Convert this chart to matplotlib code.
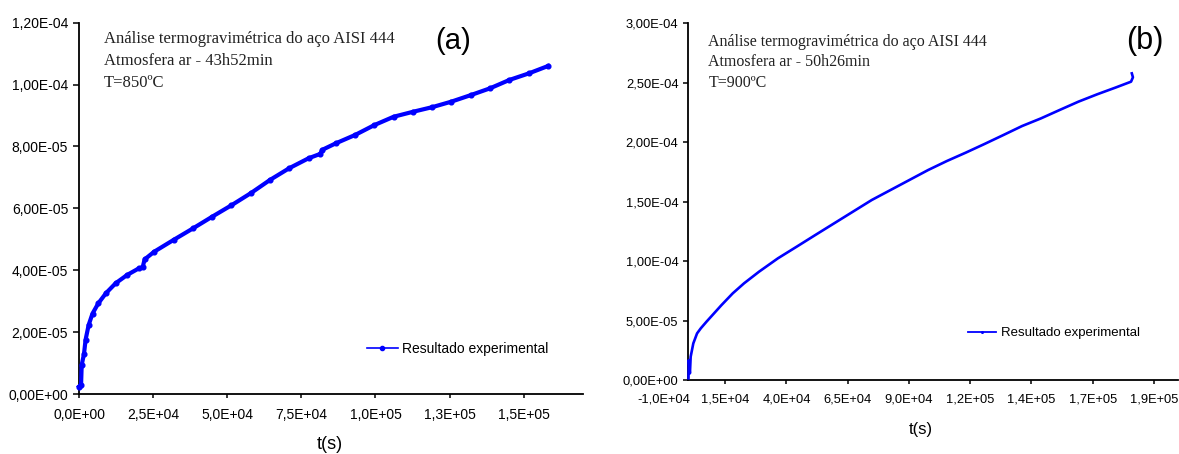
# -*- coding: utf-8 -*-

import numpy as np
import matplotlib
matplotlib.use("Agg")
import matplotlib.pyplot as plt
from matplotlib.lines import Line2D

# =========================
# 数据 (a) T=850ºC
t_850 = [0, 700, 911, 1693, 2213, 3255, 4557, 6510, 9114, 12369, 16275, 20181,
         21483, 22134, 25389, 31899, 38409, 44919, 51429, 57939, 64449, 70959,
         77469, 81375, 82026, 86583, 93093, 99603, 106113, 112623, 119133,
         125643, 132153, 138663, 145173, 151683, 158193]
m_850 = [2.4e-6, 3.0e-6, 9.4e-6, 1.30e-5, 1.75e-5, 2.23e-5, 2.60e-5, 2.93e-5,
         3.26e-5, 3.58e-5, 3.85e-5, 4.06e-5, 4.10e-5, 4.35e-5, 4.60e-5, 4.98e-5,
         5.35e-5, 5.73e-5, 6.10e-5, 6.49e-5, 6.92e-5, 7.30e-5, 7.62e-5, 7.76e-5,
         7.89e-5, 8.10e-5, 8.37e-5, 8.69e-5, 8.96e-5, 9.12e-5, 9.27e-5, 9.45e-5,
         9.66e-5, 9.88e-5, 1.015e-4, 1.036e-4, 1.060e-4]

# 数据 (b) T=900ºC
t_900 = [0, 123, 583, 890, 1964, 3498, 5032, 7332, 10400, 13468, 18070, 22672,
         28808, 36478, 44148, 51818, 59488, 67158, 74828, 82498, 90168, 97838,
         105508, 113178, 120848, 128518, 136188, 143858, 151528, 159198, 166868,
         174538, 180674, 181441, 180981]
m_900 = [1.4e-6, 1.68e-5, 5.6e-6, 1.96e-5, 3.08e-5, 3.92e-5, 4.35e-5, 4.90e-5,
         5.60e-5, 6.30e-5, 7.29e-5, 8.13e-5, 9.11e-5, 1.023e-4, 1.121e-4,
         1.220e-4, 1.318e-4, 1.416e-4, 1.514e-4, 1.598e-4, 1.682e-4, 1.766e-4,
         1.842e-4, 1.912e-4, 1.985e-4, 2.060e-4, 2.136e-4, 2.200e-4, 2.271e-4,
         2.341e-4, 2.403e-4, 2.461e-4, 2.509e-4, 2.546e-4, 2.579e-4]

# 刻度
xt_a = [0, 25000, 50000, 75000, 100000, 125000, 150000]
xl_a = ["0,0E+00", "2,5E+04", "5,0E+04", "7,5E+04", "1,0E+05", "1,3E+05", "1,5E+05"]
yt_a = [0, 2e-5, 4e-5, 6e-5, 8e-5, 1e-4, 1.2e-4]
yl_a = ["0,00E+00", "2,00E-05", "4,00E-05", "6,00E-05", "8,00E-05", "1,00E-04", "1,20E-04"]

xt_b = [-10000, 15000, 40000, 65000, 90000, 115000, 140000, 165000, 190000]
xl_b = ["-1,0E+04", "1,5E+04", "4,0E+04", "6,5E+04", "9,0E+04", "1,2E+05",
        "1,4E+05", "1,7E+05", "1,9E+05"]
yt_b = [0, 5e-5, 1e-4, 1.5e-4, 2e-4, 2.5e-4, 3e-4]
yl_b = ["0,00E+00", "5,00E-05", "1,00E-04", "1,50E-04", "2,00E-04", "2,50E-04", "3,00E-04"]

notes_a = ["Análise termogravimétrica do aço AISI 444", "Atmosfera ar - 43h52min", "T=850ºC"]
notes_b = ["Análise termogravimétrica do aço AISI 444", "Atmosfera ar - 50h26min", "T=900ºC"]

SANS = "Liberation Sans"
SERIF = "Liberation Serif"
BLUE = "#0000ff"

W, H = 1179, 454
fig = plt.figure(figsize=(W / 100, H / 100), dpi=100)


def px_box(x0, x1, y_top, y_bot):
    return [x0 / W, 1 - y_bot / H, (x1 - x0) / W, (y_bot - y_top) / H]


def style_axes(ax, size):
    for s in ("top", "right"):
        ax.spines[s].set_visible(False)
    for s in ("left", "bottom"):
        ax.spines[s].set_linewidth(1.3)
    ax.tick_params(axis="y", direction="out", length=4.3, width=1.1, pad=3.5,
                   labelsize=size)
    ax.tick_params(axis="x", direction="out", length=3, width=1.1, pad=7,
                   labelsize=size)
    for lab in ax.get_xticklabels() + ax.get_yticklabels():
        lab.set_fontfamily(SANS)


# =========================
# (a)
ax1 = fig.add_axes(px_box(79, 583, 22.7, 394))
ax1.plot(t_850, m_850, color=BLUE, lw=3.0, marker="o", ms=3.4, zorder=3, clip_on=False)
ax1.set_xlim(0, 170000)
ax1.set_ylim(0, 1.2e-4)
ax1.set_xticks(xt_a, xl_a)
ax1.set_yticks(yt_a, yl_a)
style_axes(ax1, 10)
ax1.set_xlabel("t(s)", fontsize=13, family=SANS, va="center")
ax1.xaxis.set_label_coords(0.498, -0.137)

h1 = Line2D([], [], color=BLUE, lw=1.2, marker="o", ms=3)
ax1.legend([h1], ["Resultado experimental"], frameon=False, loc="center left",
           bbox_to_anchor=(367 / W, 1 - 349 / H), bbox_transform=fig.transFigure,
           borderpad=0, borderaxespad=0, handlelength=2.2, handletextpad=0.3,
           prop={"family": SANS, "size": 10})

for i, s in enumerate(notes_a):
    fig.text(104 / W, 1 - (39 + 22 * i) / H, s, family=SERIF, fontsize=12,
             color="#222222", va="center", ha="left")
fig.text(453 / W, 1 - 41 / H, "(a)", family=SANS, fontsize=21, ha="center", va="center")

# =========================
# (b)
ax2 = fig.add_axes(px_box(664, 1178.4, 23.3, 380))
ax2.plot(t_900, m_900, color=BLUE, lw=1.9, zorder=3, clip_on=False)
ax2.set_xlim(-10000, 200000)
ax2.set_ylim(0, 3e-4)
ax2.spines["left"].set_position(("data", 0))
ax2.spines["bottom"].set_bounds(0, 200000)
ax2.set_xticks(xt_b, xl_b)
ax2.set_yticks(yt_b, yl_b)
style_axes(ax2, 9.3)
ax2.tick_params(axis="y", length=3.6, pad=3.6)
ax2.xaxis.get_major_ticks()[0].tick1line.set_visible(False)
ax2.set_xlabel("t(s)", fontsize=12, family=SANS, va="center")
ax2.xaxis.set_label_coords(0.4996, -0.140)

h2 = Line2D([], [], color=BLUE, lw=1.3, marker="o", ms=1.2)
ax2.legend([h2], ["Resultado experimental"], frameon=False, loc="center left",
           bbox_to_anchor=(968 / W, 1 - 333 / H), bbox_transform=fig.transFigure,
           borderpad=0, borderaxespad=0, handlelength=2.15, handletextpad=0.35,
           prop={"family": SANS, "size": 9.5})

for i, s in enumerate(notes_b):
    fig.text(708.5 / W, 1 - (42 + 20.5 * i) / H, s, family=SERIF, fontsize=11.5,
             color="#222222", va="center", ha="left")
fig.text(1145 / W, 1 - 41 / H, "(b)", family=SANS, fontsize=22, ha="center", va="center")

fig.savefig("out.png", dpi=100)
plt.close(fig)
